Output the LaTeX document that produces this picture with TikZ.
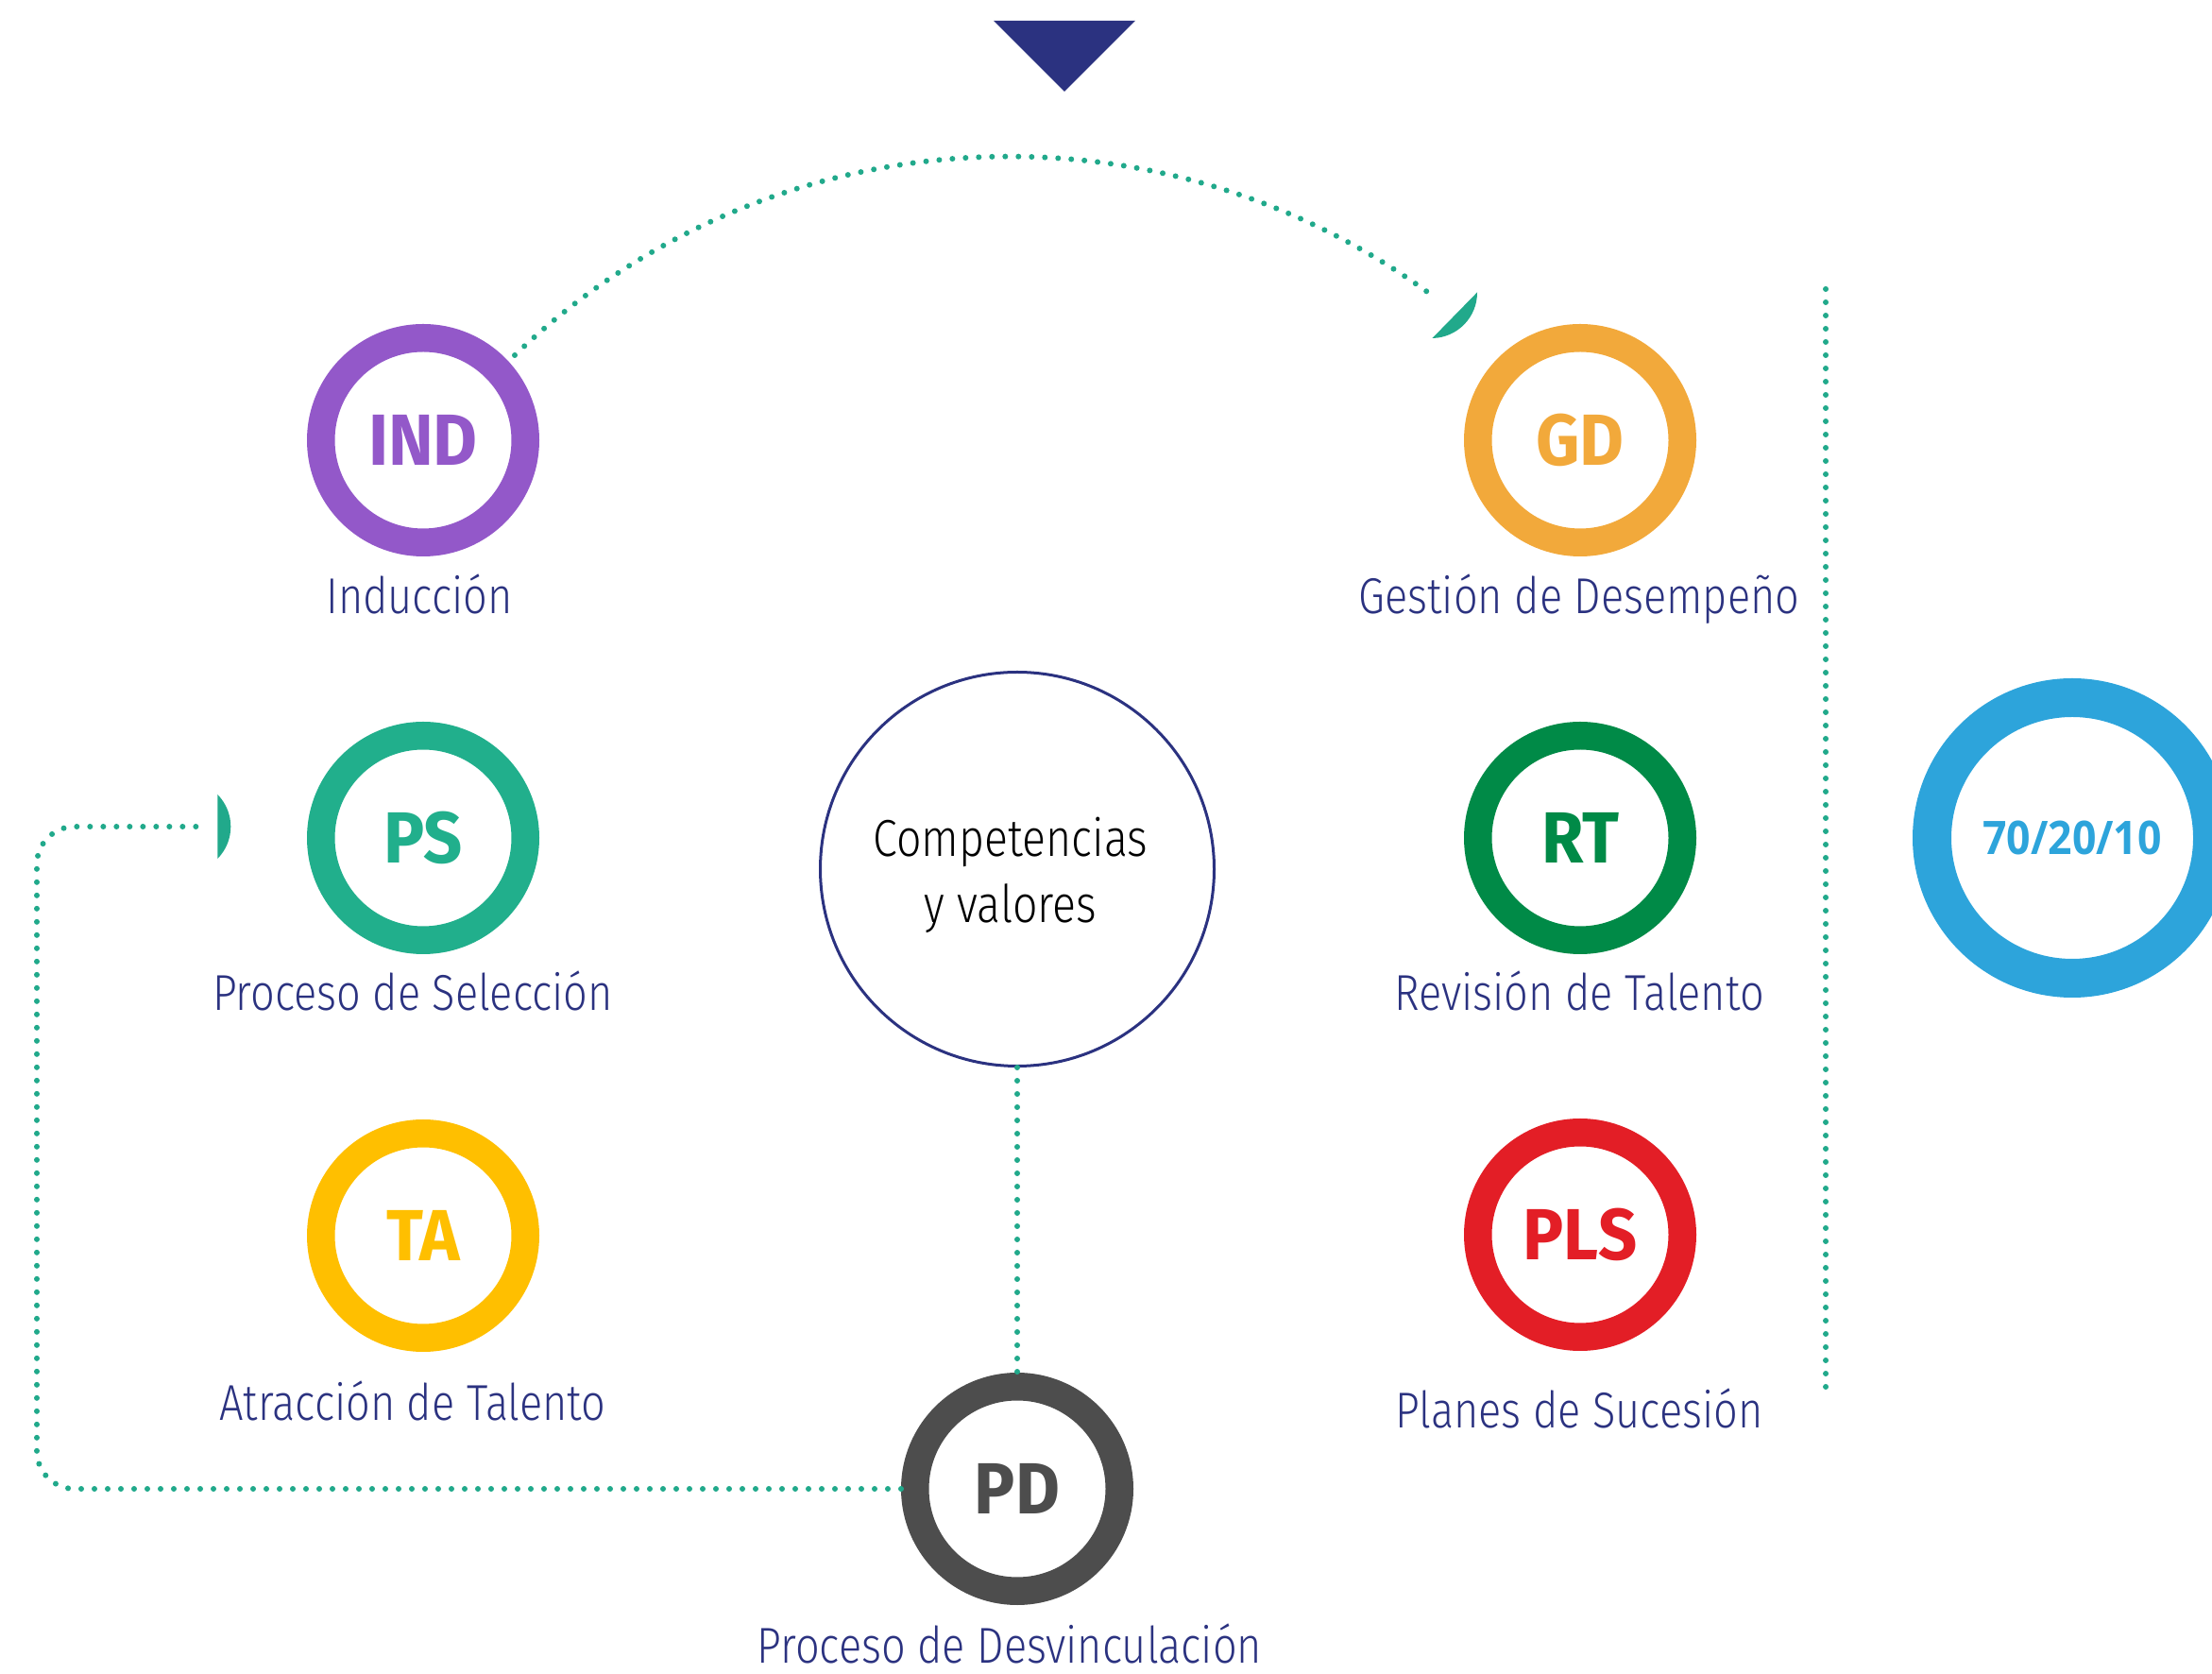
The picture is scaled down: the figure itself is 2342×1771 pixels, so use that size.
\documentclass[tikz,border=0pt]{standalone}
\usepackage{fontspec}
\newfontfamily\lightf{Fira Sans Light}[FakeStretch=0.845]
\newfontfamily\boldf{Fira Sans}[FakeStretch=0.94]
\newfontfamily\numf{Open Sans}[FakeStretch=0.91]
\definecolor{navy}{HTML}{2B3280}
\definecolor{cind}{HTML}{9358C9}
\definecolor{cgd}{HTML}{F2A93B}
\definecolor{cps}{HTML}{21AF8C}
\definecolor{crt}{HTML}{008A47}
\definecolor{cta}{HTML}{FFBF00}
\definecolor{cpls}{HTML}{E31E26}
\definecolor{cpd}{HTML}{4D4D4D}
\definecolor{cblue}{HTML}{2DA4DB}
\definecolor{cdot}{HTML}{21A98B}
\begin{document}
\begin{tikzpicture}[x=0.3pt,y=0.3pt,
  ring/.style={circle, line width=8.85pt, minimum size=64.95pt, inner sep=0pt,
    font=\boldf\bfseries\fontsize{23}{26}\selectfont},
  bigring/.style={circle, line width=12.3pt, minimum size=89.1pt, inner sep=0pt,
    draw=cblue, text=cblue, font=\numf\bfseries\fontsize{14.7}{17}\selectfont},
  lbl/.style={anchor=base, inner sep=0pt, text=navy,
    font=\lightf\fontsize{16}{19}\selectfont},
  dotline/.style={draw=cdot, line width=1.8pt, line cap=round, dash pattern=on 0pt off 4.2pt},
  headfill/.style={fill=cdot}]
\useasboundingbox (0,0) rectangle (2342,1771);
\clip (0,0) rectangle (2342,1771);

% top triangle
\fill[navy] (1052,1749) -- (1202,1749) -- (1127,1674) -- cycle;

% nodes
\node[ring, draw=cind, text=cind] (IND) at (448,1305) {IND};
\node[ring, draw=cgd, text=cgd] (GD) at (1673,1305) {GD};
\node[ring, draw=cps, text=cps] (PS) at (448,884) {PS};
\node[ring, draw=crt, text=crt] (RT) at (1673,884) {RT};
\node[ring, draw=cta, text=cta] (TA) at (448,463) {TA};
\node[ring, draw=cpls, text=cpls] (PLS) at (1673,464) {PLS};
\node[ring, draw=cpd, text=cpd] (PD) at (1077,195) {PD};
\node[bigring] (N70) at (2194,884) {70/20/10};
\node[circle, draw=navy, line width=0.9pt, minimum size=125.1pt, inner sep=0pt] (COMP) at (1077,851) {};
\node[align=center, inner sep=0pt, font=\lightf\fontsize{16.5}{21}\selectfont] (COMPtxt) at (1070,845)
  {Competencias\\y valores};

% labels
\node[lbl] (lIND) at (444,1121) {Inducción};
\node[lbl] (lGD) at (1672,1121.5) {Gestión de Desempeño};
\node[lbl] (lPS) at (437,701.5) {Proceso de Selección};
\node[lbl] (lRT) at (1672,701.5) {Revisión de Talento};
\node[lbl] (lTA) at (437,268) {Atracción de Talento};
\node[lbl] (lPLS) at (1672,260) {Planes de Sucesión};
\node[lbl] (lPD) at (1069,11) {Proceso de Desvinculación};

% connectors
\coordinate (arcS) at (545,1395);
\draw[dotline] (arcS) arc[start angle=133.8, end angle=53.2, radius=756];
\fill[headfill] (1515.7,1461.3) ++(0.3:48.3) arc[start angle=0.3, end angle=-89.1, radius=48.3] -- cycle;

\draw[dotline] (COMP.south) -- (PD.north);

\coordinate (psend) at (214,896);
\draw[dotline, rounded corners=12pt] (PD.west) -- (39,195) -- (39,896) -- (psend);
\fill[headfill] (196,896) ++(44.7:48.3) arc[start angle=44.7, end angle=-44.7, radius=48.3] -- cycle;

\coordinate (vtop) at (1933,1465);
\coordinate (vbot) at (1933,297);
\draw[dotline] (vtop) -- (vbot);
\end{tikzpicture}
\end{document}
